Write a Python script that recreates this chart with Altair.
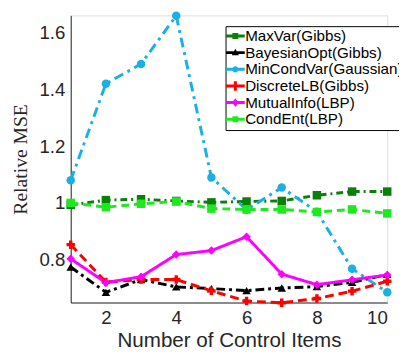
import altair as alt
import pandas as pd

x_items = [1, 2, 3, 4, 5, 6, 7, 8, 9, 10]
series = ["MaxVar(Gibbs)", "BayesianOpt(Gibbs)", "MinCondVar(Gaussian)",
          "DiscreteLB(Gibbs)", "MutualInfo(LBP)", "CondEnt(LBP)"]
maxvar = [0.993, 1.010, 1.013, 1.007, 1.002, 1.005, 1.007, 1.027, 1.040, 1.040]
bayesopt = [0.774, 0.685, 0.730, 0.704, 0.698, 0.691, 0.700, 0.705, 0.720, 0.748]
mincondvar = [1.080, 1.420, 1.490, 1.660, 1.090, 0.976, 1.054, 0.969, 0.768, 0.685]
discretelb = [0.853, 0.721, 0.730, 0.730, 0.690, 0.654, 0.648, 0.663, 0.689, 0.724]
mutualinfo = [0.803, 0.719, 0.740, 0.818, 0.832, 0.881, 0.749, 0.712, 0.729, 0.746]
condent = [1.000, 0.985, 0.997, 1.005, 0.980, 0.977, 0.977, 0.968, 0.977, 0.963]
x_ticks = [2, 4, 6, 8, 10]
y_ticks = [0.8, 1.0, 1.2, 1.4, 1.6]

colors = ["#0a800a", "#000000", "#1ab0e3", "#ff0000", "#ff00ff", "#1ee81e"]
dashes = [[7, 4, 2, 4], [9, 4, 3, 4], [10, 5, 3, 5], [9, 5], [1, 0], [8, 5]]
shapes = ["square", "triangle-up", "circle", "cross", "diamond", "square"]

bar = "M-1.2,-0.19H1.2V0.19H-1.2Z "
legend_paths = [
    bar + "M-0.375,-0.375H0.375V0.375H-0.375Z",
    bar + "M0,-0.48L0.45,0.32L-0.45,0.32Z",
    bar + "M-0.4,0A0.4,0.4,0,0,1,0.4,0A0.4,0.4,0,0,1,-0.4,0Z",
    bar + "M-0.19,-0.6H0.19V0.6H-0.19Z",
    bar + "M0,-0.55L0.4,0L0,0.55L-0.4,0Z",
    bar + "M-0.375,-0.375H0.375V0.375H-0.375Z",
]

vals = [maxvar, bayesopt, mincondvar, discretelb, mutualinfo, condent]
rows = []
for name, ys in zip(series, vals):
    for xv, yv in zip(x_items, ys):
        rows.append({"x": xv, "y": yv, "series": name})
df = pd.DataFrame(rows)

font = "Liberation Sans"
x_enc = alt.X("x:Q", scale=alt.Scale(domain=[1, 10], nice=False, zero=False),
              axis=alt.Axis(values=x_ticks, title="Number of Control Items",
                            grid=False, tickSize=0, labelPadding=6,
                            labelFont=font, labelFontSize=19, labelColor="#262626",
                            titleFont=font, titleFontSize=21, titleFontWeight="normal",
                            titleColor="#262626", titlePadding=3,
                            domainColor="#262626", domainWidth=1))
y_enc = alt.Y("y:Q", scale=alt.Scale(domain=[0.649, 1.661], nice=False, zero=False),
              axis=alt.Axis(values=y_ticks, format="~g", title="Relative MSE",
                            grid=False, tickSize=0, labelPadding=6,
                            labelFont=font, labelFontSize=19, labelColor="#262626",
                            titleFont="Liberation Serif", titleFontSize=20,
                            titleFontWeight="normal", titleColor="#262626",
                            titlePadding=9, domainColor="#262626", domainWidth=1))

color_enc = alt.Color("series:N", scale=alt.Scale(domain=series, range=colors), legend=None)

base = alt.Chart(df)
lines = base.mark_line(strokeWidth=3, clip=False).encode(
    x=x_enc, y=y_enc, color=color_enc,
    strokeDash=alt.StrokeDash("series:N", scale=alt.Scale(domain=series, range=dashes), legend=None),
    detail="series:N",
)
points = base.mark_point(filled=True, size=75, opacity=1, clip=False).encode(
    x=x_enc, y=y_enc, color=color_enc,
    shape=alt.Shape("series:N", scale=alt.Scale(domain=series, range=shapes), legend=None),
)

def make_legend():
    return alt.Legend(title=None, orient="none", legendX=158, legendY=11,
                      padding=2, rowPadding=0, strokeColor="#000000",
                      fillColor="#ffffff", labelFont=font,
                      labelFontSize=15.5, labelColor="#000000",
                      labelLimit=400, symbolSize=256, labelOffset=2,
                      symbolStrokeWidth=0, symbolOpacity=1)

legend_layer = base.transform_filter("datum.y > 100").mark_point(filled=True).encode(
    x=x_enc, y=y_enc,
    color=alt.Color("series:N", scale=alt.Scale(domain=series, range=colors),
                    legend=make_legend()),
    shape=alt.Shape("series:N", scale=alt.Scale(domain=series, range=legend_paths),
                    legend=make_legend()),
)

chart = alt.layer(lines, points, legend_layer).resolve_scale(
    color="independent", shape="independent"
).properties(
    width=323, height=293,
    autosize=alt.AutoSizeParams(type="none"),
    padding={"left": 64, "top": 4, "right": 12, "bottom": 49},
).configure_view(stroke=None).configure(background="#ffffff")

chart.save("out.html", embed_options={"renderer": "svg", "actions": False})
